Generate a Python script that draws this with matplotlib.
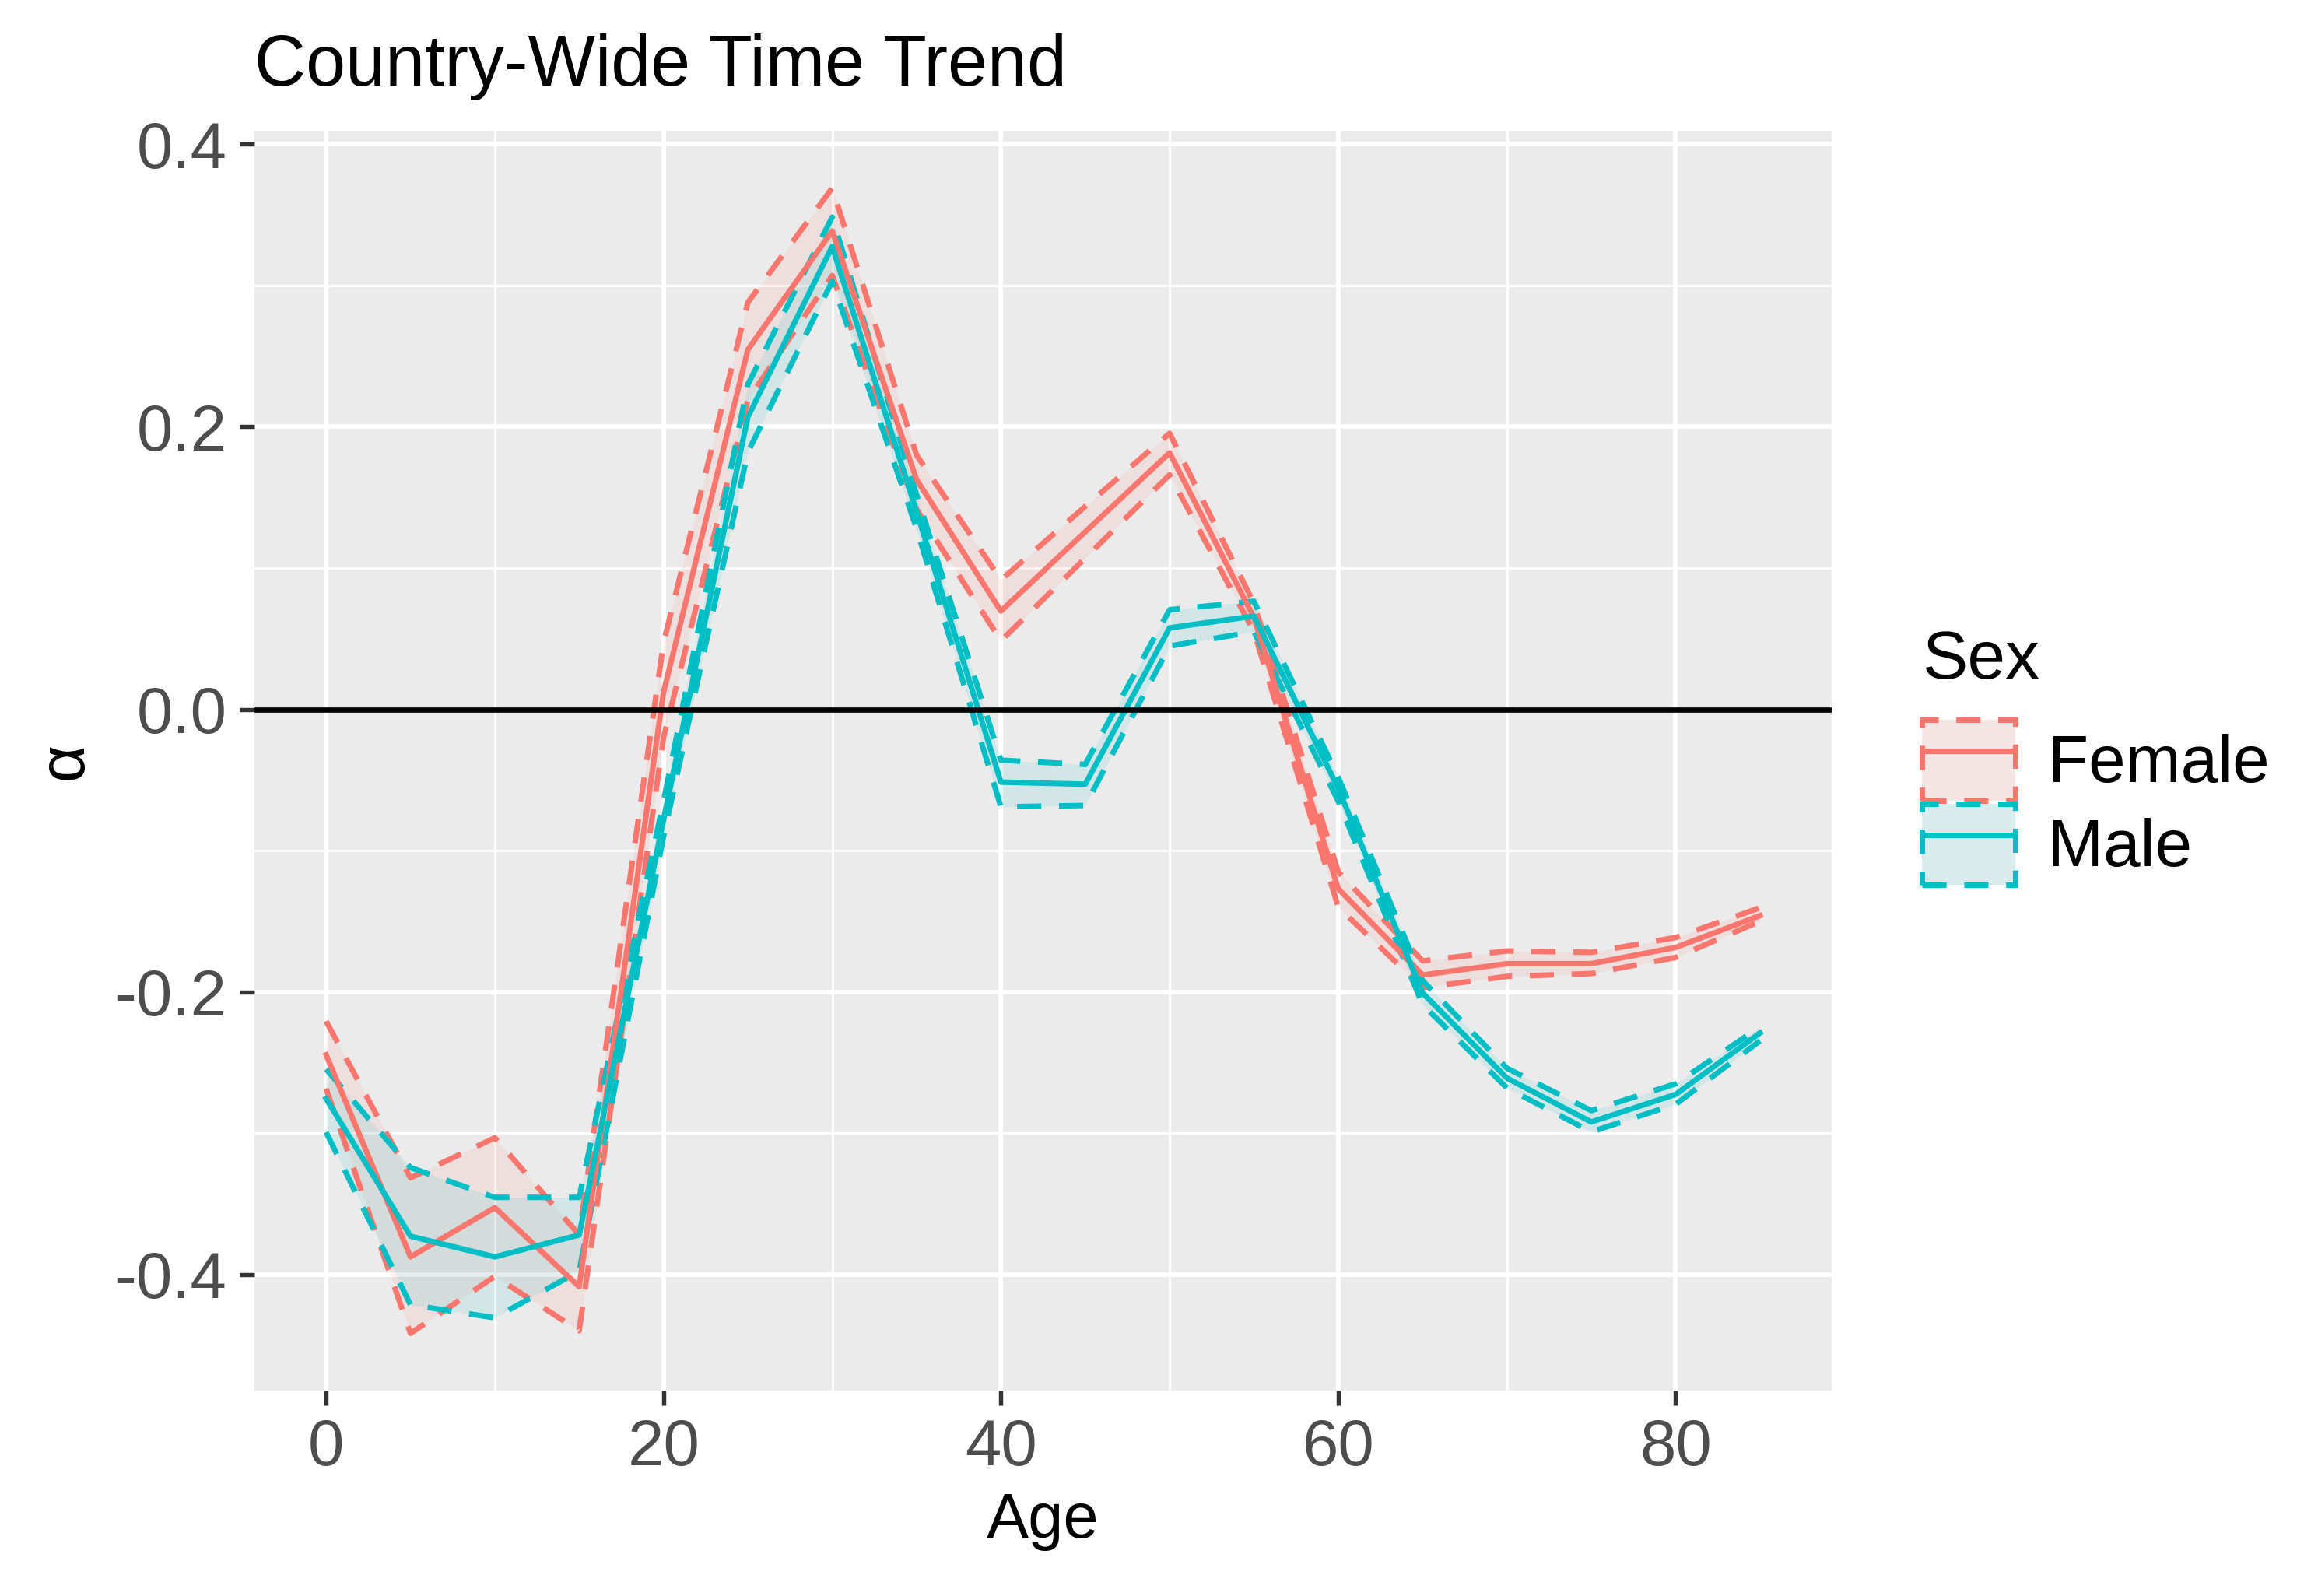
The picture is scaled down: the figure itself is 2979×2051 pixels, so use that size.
import numpy as np
import matplotlib
matplotlib.use("Agg")
import matplotlib.pyplot as plt
from matplotlib.patches import Patch
from matplotlib.lines import Line2D
from matplotlib.ticker import FixedLocator

plt.rcParams['font.family'] = ['Liberation Sans', 'DejaVu Sans']

ages = [0, 5, 10, 15, 20, 25, 30, 35, 40, 45, 50, 55, 60, 65, 70, 75, 80, 85]

female_mid = [-0.2445, -0.3875, -0.3527, -0.4086, 0.012, 0.2546, 0.3385, 0.1626, 0.0696,
              0.1256, 0.1816, 0.065, -0.127, -0.188, -0.180, -0.180, -0.1685, -0.146]
female_lo = [-0.2684, -0.4416, -0.4013, -0.4398, -0.020, 0.219, 0.307, 0.1416, 0.0485,
             0.107, 0.166, 0.055, -0.140, -0.197, -0.189, -0.187, -0.1756, -0.150]
female_hi = [-0.2207, -0.3316, -0.3032, -0.372, 0.047, 0.288, 0.369, 0.180, 0.0916,
             0.1436, 0.1954, 0.075, -0.115, -0.178, -0.171, -0.172, -0.1615, -0.1404]

male_mid = [-0.2755, -0.3729, -0.3875, -0.372, -0.078, 0.207, 0.3276, 0.14, -0.0515,
            -0.053, 0.0577, 0.066, -0.056, -0.2008, -0.261, -0.292, -0.2725, -0.229]
male_lo = [-0.2993, -0.4214, -0.4306, -0.3976, -0.09, 0.182, 0.303, 0.128, -0.069,
           -0.068, 0.0448, 0.055, -0.065, -0.209, -0.268, -0.299, -0.2795, -0.2346]
male_hi = [-0.2546, -0.3243, -0.3454, -0.3454, -0.065, 0.23, 0.3484, 0.152, -0.036,
           -0.039, 0.0705, 0.0765, -0.048, -0.192, -0.254, -0.284, -0.265, -0.2247]

sexes = ["Female", "Male"]
colors = ["#F8766D", "#00BFC4"]

x_ticks = [0, 20, 40, 60, 80]
x_ticklabels = ["0", "20", "40", "60", "80"]
x_minor = [10, 30, 50, 70]
y_ticks = [-0.4, -0.2, 0.0, 0.2, 0.4]
y_ticklabels = ["-0.4", "-0.2", "0.0", "0.2", "0.4"]
y_minor = [-0.3, -0.1, 0.1, 0.3]

series = [(female_lo, female_mid, female_hi), (male_lo, male_mid, male_hi)]

W, H = 2979, 2051
fig = plt.figure(figsize=(W / 300, H / 300), dpi=300)
ax = fig.add_axes([327 / W, 1 - 1787 / H, (2354 - 327) / W, (1787 - 168) / H])
ax.set_facecolor("#EBEBEB")
for s in ax.spines.values():
    s.set_visible(False)

lw = 1.7
dash = (4.4, 3.2)

# ribbons with dashed outlines
for (lo, mid, hi), c in zip(series, colors):
    ax.fill_between(ages, lo, hi, color=c, alpha=0.1, linewidth=0, zorder=2)
    ax.plot(ages, lo, color=c, lw=lw, dashes=dash, zorder=3)
    ax.plot(ages, hi, color=c, lw=lw, dashes=dash, zorder=3)

# central estimates
for (lo, mid, hi), c in zip(series, colors):
    ax.plot(ages, mid, color=c, lw=lw, zorder=4)

ax.axhline(0, color="black", lw=1.6, zorder=5)

# ggplot-style expanded limits
xr = max(ages) - min(ages)
ax.set_xlim(min(ages) - 0.05 * xr, max(ages) + 0.05 * xr)
allv = np.concatenate([female_lo, female_hi, male_lo, male_hi])
yr = allv.max() - allv.min()
ax.set_ylim(allv.min() - 0.05 * yr, allv.max() + 0.05 * yr)

ax.set_xticks(x_ticks, x_ticklabels)
ax.set_yticks(y_ticks, y_ticklabels)
ax.xaxis.set_minor_locator(FixedLocator(x_minor))
ax.yaxis.set_minor_locator(FixedLocator(y_minor))
ax.grid(which="major", color="white", lw=1.4, zorder=0)
ax.grid(which="minor", color="white", lw=0.7, zorder=0)
ax.set_axisbelow(True)
ax.tick_params(which="major", length=4.5, width=1.3, color="#333333",
               labelsize=20, labelcolor="#4D4D4D", pad=4)
ax.tick_params(which="minor", length=0)

ax.set_xlabel("Age", fontsize=19.5, labelpad=4)
ax.set_ylabel("α", fontsize=20, labelpad=6)
ax.set_title("Country-Wide Time Trend", loc="left", fontsize=22, pad=14)

# legend
handles = []
for c in colors:
    handles.append((
        Patch(facecolor="#F2F2F2", edgecolor="none"),
        Patch(facecolor=c, alpha=0.1, edgecolor="none"),
        Patch(facecolor="none", edgecolor=c, linestyle=(0, dash), linewidth=lw),
        Line2D([], [], color=c, lw=lw),
    ))
fig.legend(handles, sexes, loc="upper left", bbox_to_anchor=(2470 / W, 1 - 925 / H),
           frameon=False, fontsize=20.5, handlelength=1.4, handleheight=1.5,
           handletextpad=0.5, labelspacing=0.04, borderpad=0, borderaxespad=0)
fig.text(2470 / W, 1 - 872 / H, "Sex", fontsize=21, va="baseline", ha="left")

fig.savefig("out.png", dpi=300)
